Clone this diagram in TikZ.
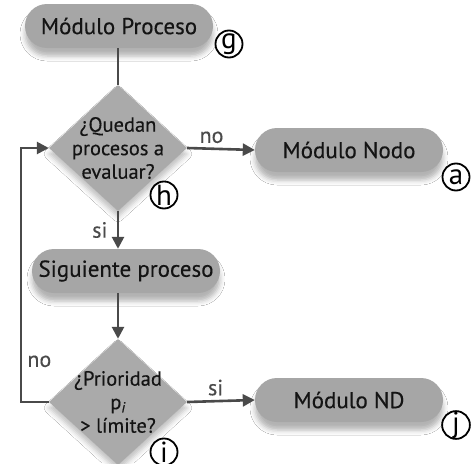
\documentclass[tikz,border=0pt]{standalone}
\usepackage{fontspec}
\setmainfont{PT Sans}[FakeBold=0.3]
\newfontfamily\tagfont{PT Sans}
\usepackage{tikz}
\usetikzlibrary{positioning,arrows.meta,shapes.geometric,shapes.misc,shadows.blur}
\definecolor{cbox}{RGB}{166,166,166}
\definecolor{cdec}{RGB}{170,170,170}
\definecolor{cline}{RGB}{74,74,74}
\definecolor{ctxt}{RGB}{20,20,20}

\begin{document}
\begin{tikzpicture}[x=1pt,y=-1pt,font=\fontsize{23}{26}\selectfont,text=ctxt,
  modulo/.style={rounded rectangle,fill=cbox,minimum width=188pt,minimum height=44pt,inner sep=0pt,
    blur shadow={shadow xshift=0pt,shadow yshift=-8pt,shadow opacity=30,shadow blur radius=5pt}},
  decision/.style={diamond,fill=cdec,minimum width=138pt,minimum height=126pt,inner sep=0pt,
    blur shadow={shadow xshift=0pt,shadow yshift=-6pt,shadow opacity=25,shadow blur radius=5pt}},
  dectext/.style={align=center,inner sep=0pt,font=\fontsize{20.5}{23.5}\selectfont},
  tag/.style={circle,draw=black,line width=1.8pt,fill=white,minimum size=27pt,inner sep=0pt,
    font=\tagfont\fontsize{29}{29}\selectfont,text=black},
  flow/.style={-{Triangle[length=12pt,width=12pt]},cline,line width=2.6pt},
  plain/.style={cline,line width=2.6pt},
  lbl/.style={font=\fontsize{22}{22}\selectfont},
]
\path[use as bounding box,fill=white] (0,0) rectangle (471,463);

% boxes and decisions
\node[modulo] (proc) at (119,26) {Módulo Proceso};
\node[decision] (q1) at (118,148) {};
\node[dectext] (q1txt) at (q1) {¿Quedan\\procesos a\\evaluar?};
\node[modulo] (nodo) at (349,150) {Módulo Nodo};
\node[modulo] (sig) at (126,271) {Siguiente proceso};
\node[decision] (q2) at (118,402) {};
\node[dectext] (q2txt) at (q2) {¿Prioridad\\p\textsubscript{\itshape i}\\> límite?};
\node[modulo] (nd) at (349,400) {Módulo ND};

% connectors
\draw[plain] (proc.south -| q1.north) -- (q1.north);
\draw[flow] (q1.east) -- node[lbl,above=1pt,pos=0.36]{no} (nodo.west);
\draw[flow] (q1.south) -- node[lbl,left=6pt,pos=0.5]{si} (q1.south |- sig.north);
\draw[flow] (q1.south |- sig.south) -- (q2.north);
\draw[flow] (q2.east) -- node[lbl,above=1pt,pos=0.42]{si} (nd.west);
\draw[flow] (q2.west) -- ++(-28,0) coordinate (back) |- node[lbl,pos=0.08,right=2pt]{no} (q1.west);

% letter tags
\node[tag] (tg) at (229,44) {g};
\node[tag] (th) at (164,195) {h};
\node[tag] (ta) at (456,177) {a};
\node[tag] (ti) at (164,452) {i};
\node[tag] (tj) at (456,425) {j};
\end{tikzpicture}
\end{document}
